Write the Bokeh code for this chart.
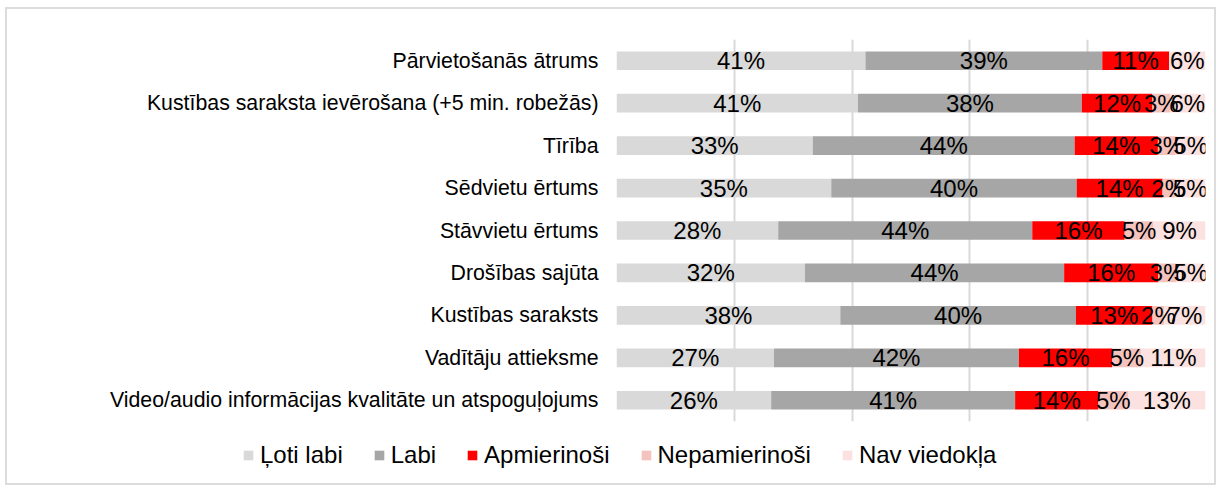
from bokeh.plotting import figure
from bokeh.layouts import column
from bokeh.models import ColumnDataSource, FactorRange, Range1d, FixedTicker, Legend, LegendItem
from bokeh.core.properties import value
from bokeh.embed import file_html
from bokeh.resources import INLINE

categories = [
    "Pārvietošanās ātrums",
    "Kustības saraksta ievērošana (+5 min. robežās)",
    "Tīrība",
    "Sēdvietu ērtums",
    "Stāvvietu ērtums",
    "Drošības sajūta",
    "Kustības saraksts",
    "Vadītāju attieksme",
    "Video/audio informācijas kvalitāte un atspoguļojums",
]
series = ["Ļoti labi", "Labi", "Apmierinoši", "Nepamierinoši", "Nav viedokļa"]
loti_labi = [41, 41, 33, 35, 28, 32, 38, 27, 26]
labi = [39, 38, 44, 40, 44, 44, 40, 42, 41]
apmierinosi = [11, 12, 14, 14, 16, 16, 13, 16, 14]
nepamierinosi = [0, 3, 3, 2, 5, 3, 2, 5, 5]
nav_viedokla = [6, 6, 5, 5, 9, 5, 7, 11, 13]
colors = ["#D9D9D9", "#A6A6A6", "#FF0000", "#F4C3BE", "#FBE2E0"]

FONT = "Liberation Sans"
values = [loti_labi, labi, apmierinosi, nepamierinosi, nav_viedokla]
keys = ["s0", "s1", "s2", "s3", "s4"]

totals = [sum(v[i] for v in values) for i in range(len(categories))]
data = {"cat": categories}
for k, v in zip(keys, values):
    data[k] = [v[i] / totals[i] for i in range(len(categories))]
src = ColumnDataSource(data)

# label positions (centres of the stacked segments)
lx, ly, lt = [], [], []
for i, c in enumerate(categories):
    cum = 0.0
    for k, v in zip(keys, values):
        share = data[k][i]
        if v[i] > 0:
            lx.append(cum + share / 2)
            ly.append(c)
            lt.append(f"{v[i]}%")
        cum += share
lab_src = ColumnDataSource(dict(x=lx, y=ly, t=lt))

p = figure(
    width=1207, height=422,
    y_range=FactorRange(factors=list(reversed(categories))),
    x_range=Range1d(0, 1),
    output_backend="svg", toolbar_location=None,
    min_border_left=609, min_border_right=9, min_border_top=30, min_border_bottom=10,
)
p.outline_line_color = None
p.frame_align = False

renderers = p.hbar_stack(keys, y="cat", height=0.44, color=colors, source=src, line_width=0)

p.text(x="x", y="y", text="t", source=lab_src, text_align="center", text_baseline="middle",
       text_font=value(FONT), text_font_size="24px", text_color="#000000")

p.xaxis.visible = False
p.xgrid.ticker = FixedTicker(ticks=[0, 0.2, 0.4, 0.6, 0.8, 1.0])
p.xgrid.grid_line_color = "#D9D9D9"
p.xgrid.grid_line_width = 2
p.ygrid.grid_line_color = None

p.yaxis.axis_line_color = None
p.yaxis.major_tick_line_color = None
p.yaxis.minor_tick_line_color = None
p.yaxis.major_label_standoff = 12
p.yaxis.major_label_text_font = FONT
p.yaxis.major_label_text_font_size = "21.3px"
p.yaxis.major_label_text_color = "#000000"

# legend in its own strip below the bars (hidden copies of the series feed its swatches)
p2 = figure(
    width=1207, height=52,
    y_range=FactorRange(factors=list(reversed(categories))), x_range=Range1d(0, 1),
    output_backend="svg", toolbar_location=None,
    x_axis_location=None, y_axis_location=None,
    min_border_left=0, min_border_right=0, min_border_top=0, min_border_bottom=0,
)
p2.frame_align = False
p2.outline_line_color = None
p2.grid.visible = False
leg_renderers = p2.hbar_stack(keys, y="cat", height=0.44, color=colors, source=src, line_width=0)
for r in leg_renderers:
    r.visible = False

legend = Legend(
    items=[LegendItem(label=s, renderers=[r], index=0) for s, r in zip(series, leg_renderers)],
    orientation="horizontal", location=(235, 14),
    glyph_width=12, glyph_height=12, label_standoff=6, spacing=30,
    padding=0, margin=0, border_line_color=None, background_fill_alpha=0,
    inactive_fill_alpha=0,
    label_text_font=FONT, label_text_font_size="24px", label_text_color="#000000",
)
p2.add_layout(legend)

layout = column(p, p2, spacing=0)
layout.styles = {"margin-left": "5px", "margin-top": "7px", "border": "2px solid #DCDCDC"}

open("out.html", "w").write(file_html(layout, INLINE))
